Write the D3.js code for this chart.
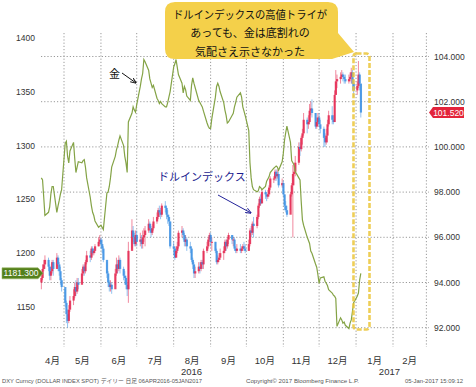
<!DOCTYPE html>
<html lang="ja">
<head>
  <meta charset="UTF-8">
  <title>ドルインデックスと金</title>
  <script src="https://d3js.org/d3.v7.min.js"></script>
  <style>
    body { margin: 0; background: #fff; }
    svg { display: block; }
    .grid line { stroke: #9a9a9a; stroke-width: 1; stroke-dasharray: 1.2,2; }
    .lbl { font-family: "Liberation Sans", "Noto Sans CJK JP", sans-serif; fill: #333; }
    .jp { font-family: "Noto Sans CJK JP", sans-serif; }
  </style>
</head>
<body>
<svg id="chart" width="476" height="387"></svg>
<script>
// ---- data (daily, weekdays 12 Apr 2016 - 5 Jan 2017) ----
// dollar index close / high / low
const dxyClose = [
  94.2, 94.6, 94.8, 95.0, 94.7, 94.3, 94.5, 94.9, 94.6, 95.1, 94.8, 94.5, 94.1, 93.8,
  93.1, 92.6, 92.3, 92.8, 93.2, 93.4, 93.8, 93.6, 94.0, 93.9, 94.4, 94.7, 94.5, 94.9, 95.2, 95.1, 95.5, 95.3, 95.4, 95.6, 95.8, 95.9,
  95.7, 95.5, 95.0, 94.4, 94.0, 93.8, 93.9, 93.7, 94.4, 94.8, 94.6, 95.0, 94.6, 94.3, 94.2, 93.9, 93.7, 95.4, 96.3, 96.0, 95.7, 96.1,
  95.8, 95.9, 95.7, 96.0, 96.1, 96.3, 96.6, 96.4, 96.2, 96.4, 96.7, 96.9, 97.2, 97.1, 97.0, 97.4, 97.3, 97.0, 96.9, 96.7, 95.6,
  95.5, 95.1, 95.4, 95.6, 96.2, 96.3, 96.1, 95.8, 95.9, 95.6, 95.5, 95.0, 94.8, 94.4, 94.5, 94.7, 94.6, 94.9, 94.8, 95.4, 95.6, 95.9, 96.1,
  95.8, 95.8, 95.4, 94.9, 95.0, 95.1, 95.3, 95.4, 95.8, 95.6, 95.9, 96.1, 95.9, 95.9, 95.5, 95.4, 95.5, 95.4, 95.5, 95.6, 95.5, 95.4,
  95.7, 96.3, 96.2, 96.6, 96.5, 96.9, 97.4, 97.7, 97.5, 98.0, 97.9, 97.8, 97.9, 98.2, 98.6, 98.6, 98.9, 98.7, 98.8, 98.3, 98.4,
  97.9, 97.4, 97.2, 97.0, 97.9, 98.3, 98.8, 98.9, 99.3, 100.0, 99.9, 100.4, 100.6, 101.2, 101.0, 101.1, 101.6, 101.7, 101.5, 100.9, 101.1, 101.3,
  101.0, 100.8, 100.4, 100.2, 100.5, 101.0, 101.4, 101.2, 101.1, 102.3, 102.9, 103.0, 103.1, 103.2, 103.1, 103.0, 102.9, 103.0, 103.1, 103.3, 102.8, 102.5,
  102.7, 103.2, 102.8, 101.52
];
const dxyHigh = [
  94.4, 94.8, 95.0, 95.2, 95.1, 94.8, 94.7, 95.0, 95.0, 95.3, 95.2, 94.9, 94.7, 94.2,
  93.7, 93.2, 92.8, 93.0, 93.4, 93.7, 94.0, 94.1, 94.2, 94.2, 94.6, 94.8, 94.8, 95.0, 95.4, 95.4, 95.6, 95.6, 95.5, 95.7, 96.0, 96.1,
  96.0, 95.9, 95.6, 94.9, 94.5, 94.1, 94.1, 94.0, 94.6, 95.1, 95.0, 95.2, 95.1, 94.7, 94.5, 94.3, 94.0, 95.8, 96.8, 96.5, 96.2, 96.3,
  96.3, 96.2, 96.1, 96.3, 96.4, 96.5, 96.8, 96.7, 96.5, 96.6, 96.9, 97.1, 97.3, 97.4, 97.3, 97.5, 97.6, 97.4, 97.2, 97.0, 96.7,
  95.8, 95.6, 95.6, 95.8, 96.3, 96.5, 96.4, 96.2, 96.1, 96.0, 95.8, 95.6, 95.1, 94.9, 94.7, 94.9, 94.9, 95.0, 95.0, 95.5, 95.8, 96.0, 96.2,
  96.2, 96.0, 95.8, 95.5, 95.2, 95.3, 95.5, 95.6, 95.9, 95.9, 96.0, 96.2, 96.1, 96.0, 96.0, 95.6, 95.7, 95.7, 95.6, 95.7, 95.8, 95.7,
  95.9, 96.4, 96.5, 96.7, 96.9, 97.0, 97.5, 97.8, 97.9, 98.1, 98.1, 98.0, 98.1, 98.3, 98.7, 98.7, 99.0, 99.0, 99.0, 98.9, 98.6,
  98.5, 97.9, 97.6, 97.4, 98.0, 98.4, 99.2, 99.3, 99.6, 100.2, 100.2, 100.5, 100.8, 101.5, 101.3, 101.4, 101.9, 102.0, 102.1, 101.5, 101.3, 101.5,
  101.5, 101.2, 100.9, 100.6, 100.8, 101.2, 101.6, 101.8, 101.4, 102.5, 103.4, 103.2, 103.3, 103.4, 103.3, 103.2, 103.2, 103.2, 103.3, 103.5, 103.4, 103.0,
  102.9, 103.8, 103.3, 102.8
];
const dxyLow = [
  93.7, 94.1, 94.5, 94.6, 94.5, 94.1, 94.1, 94.4, 94.3, 94.7, 94.5, 94.3, 93.9, 93.6,
  92.9, 92.2, 92.0, 92.2, 92.7, 93.0, 93.3, 93.4, 93.5, 93.7, 94.0, 94.3, 94.3, 94.4, 94.8, 94.9, 95.0, 95.2, 95.2, 95.3, 95.6, 95.7,
  95.5, 95.3, 94.9, 94.2, 93.8, 93.6, 93.6, 93.5, 93.9, 94.3, 94.4, 94.5, 94.4, 94.1, 93.9, 93.7, 93.4, 93.1, 95.5, 95.8, 95.6, 95.6,
  95.6, 95.6, 95.5, 95.5, 95.8, 95.6, 96.2, 96.2, 96.0, 96.1, 96.3, 96.6, 96.8, 96.9, 96.8, 96.9, 97.1, 96.8, 96.6, 96.5, 95.5,
  95.2, 95.0, 95.1, 95.3, 95.5, 96.0, 95.9, 95.6, 95.6, 95.4, 95.3, 94.9, 94.6, 94.2, 94.2, 94.4, 94.4, 94.5, 94.6, 94.6, 95.3, 95.5, 95.8,
  95.6, 95.4, 95.3, 94.8, 94.8, 94.9, 95.0, 95.0, 95.3, 95.4, 95.5, 95.7, 95.7, 95.6, 95.4, 95.3, 95.3, 95.3, 95.3, 95.4, 95.4, 95.3,
  95.4, 95.6, 96.0, 96.1, 96.0, 96.4, 96.8, 97.3, 97.4, 97.5, 97.7, 97.6, 97.7, 97.8, 98.1, 98.4, 98.5, 98.5, 98.6, 98.2, 98.2,
  97.8, 97.2, 97.1, 96.9, 97.2, 97.8, 96.0, 98.3, 98.7, 99.2, 99.6, 99.8, 100.1, 100.5, 100.6, 100.8, 101.0, 101.4, 101.3, 100.8, 100.8, 100.9,
  100.9, 100.6, 100.0, 100.0, 100.1, 100.2, 100.9, 101.0, 101.0, 101.1, 102.3, 102.6, 102.8, 103.0, 102.9, 102.8, 102.8, 102.8, 102.9, 102.8, 102.5, 102.2,
  102.3, 102.6, 102.5, 101.3
];
// gold spot close
const goldClose = [
  1270, 1268, 1252, 1235, 1238, 1243, 1255, 1262, 1262, 1238, 1244, 1249, 1255, 1259,
  1302, 1304, 1290, 1284, 1295, 1303, 1288, 1275, 1280, 1285, 1284, 1286, 1287, 1280, 1270, 1252, 1244, 1238, 1235, 1230, 1224, 1225,
  1226, 1224, 1222, 1256, 1257, 1262, 1270, 1280, 1290, 1296, 1300, 1305, 1309, 1300, 1290, 1284, 1275, 1322, 1330, 1336, 1333, 1331,
  1338, 1355, 1362, 1367, 1380, 1378, 1370, 1362, 1358, 1354, 1356, 1344, 1342, 1339, 1341, 1339, 1336, 1336, 1340, 1345, 1350,
  1373, 1376, 1380, 1373, 1366, 1358, 1349, 1355, 1352, 1346, 1342, 1356, 1363, 1358, 1354, 1342, 1340, 1338, 1336, 1332, 1321, 1318, 1316,
  1316, 1325, 1345, 1355, 1358, 1355, 1350, 1340, 1333, 1328, 1321, 1322, 1328, 1330, 1336, 1340, 1345, 1349, 1345, 1336, 1332, 1328,
  1314, 1284, 1270, 1262, 1259, 1257, 1258, 1262, 1261, 1259, 1262, 1267, 1269, 1271, 1275, 1279, 1280, 1281, 1280, 1277, 1285,
  1293, 1305, 1312, 1318, 1303, 1286, 1284, 1282, 1276, 1270, 1268, 1248, 1231, 1226, 1215, 1212, 1209, 1202, 1200, 1190, 1187, 1180,
  1172, 1177, 1178, 1174, 1172, 1170, 1166, 1163, 1161, 1160, 1158, 1132, 1140, 1138, 1135, 1136, 1133, 1130, 1135, 1138, 1146, 1154,
  1160, 1163, 1175, 1181.3
];

const leftTicks = [1150, 1200, 1250, 1300, 1350, 1400];
const rightTicks = [92, 94, 96, 98, 100, 102, 104];
const bubbleLines = ["ドルインデックスの高値トライが", "あっても、金は底割れの", "気配さえ示さなかった"];
const footerLeft = "DXY Curncy (DOLLAR INDEX SPOT)  デイリー  日足 06APR2016-05JAN2017";
const footerMid = "Copyright\u00a9 2017 Bloomberg Finance L.P.";
const footerRight = "05-Jan-2017 15:09:12";

// trading days
const days = d3.timeDay.range(new Date(2016, 3, 12), new Date(2017, 0, 6))
  .filter(d => d.getDay() !== 0 && d.getDay() !== 6);
const n = Math.min(days.length, dxyClose.length, goldClose.length);

const svg = d3.select("#chart");
const plotL = 41, plotR = 429, plotT = 33, plotB = 347;

const x = d3.scaleTime()
  .domain([new Date(2016, 4, 1), new Date(2017, 1, 1)])
  .range([64, 393]);
const yR = d3.scaleLinear().domain([92, 104]).range([327.7, 56.5]);
const yL = d3.scaleLinear().domain([1150, 1400]).range([307, 38]);

// grid
const grid = svg.append("g").attr("class", "grid");
grid.selectAll(".h").data(rightTicks).enter().append("line")
  .attr("x1", plotL).attr("x2", plotR)
  .attr("y1", d => yR(d)).attr("y2", d => yR(d));
const monthStarts = d3.timeMonth.range(new Date(2016, 4, 1), new Date(2017, 2, 2));
grid.selectAll(".v").data(monthStarts).enter().append("line")
  .attr("x1", d => x(d)).attr("x2", d => x(d))
  .attr("y1", plotT).attr("y2", plotB);

// axis labels
svg.append("g").selectAll("text").data(leftTicks).enter().append("text")
  .attr("class", "lbl").attr("x", 35).attr("y", d => yL(d) + 3)
  .attr("text-anchor", "end").attr("font-size", 8.5).text(d => d);
svg.append("g").selectAll("text").data(rightTicks).enter().append("text")
  .attr("class", "lbl").attr("x", 434).attr("y", d => yR(d) + 3)
  .attr("font-size", 8.5).text(d => d3.format(".3f")(d));

const months = d3.timeMonth.range(new Date(2016, 3, 1), new Date(2017, 2, 1));
svg.append("g").selectAll("text").data(months).enter().append("text")
  .attr("class", "lbl")
  .attr("x", d => {
    const a = Math.max(x(d), plotL), b = Math.min(x(d3.timeMonth.offset(d, 1)), plotR);
    return (a + b) / 2;
  })
  .attr("y", 364).attr("text-anchor", "middle").attr("font-size", 9.5)
  .text(d => (d.getMonth() + 1) + "月");
[["2016", new Date(2016, 7, 16)], ["2017", new Date(2017, 0, 29)]].forEach(([t, d]) => {
  svg.append("text").attr("class", "lbl").attr("x", x(d)).attr("y", 374.5)
    .attr("text-anchor", "middle").attr("font-size", 9.5).text(t);
});

// candles
const red = "#e4264f", blue = "#3b8fe3";
const candles = d3.range(n).map(i => ({
  date: days[i],
  open: i > 0 ? dxyClose[i - 1] : 94.0,
  close: dxyClose[i], high: dxyHigh[i], low: dxyLow[i]
}));
const cg = svg.append("g");
cg.selectAll("line").data(candles).enter().append("line")
  .attr("x1", d => x(d.date)).attr("x2", d => x(d.date))
  .attr("y1", d => yR(d.high)).attr("y2", d => yR(d.low))
  .attr("stroke", d => d.close >= d.open ? red : blue)
  .attr("stroke-opacity", 0.55).attr("stroke-width", 1);
cg.selectAll("rect").data(candles).enter().append("rect")
  .attr("x", d => x(d.date) - 1)
  .attr("width", 2.2)
  .attr("y", d => yR(Math.max(d.open, d.close)))
  .attr("height", d => Math.max(1, Math.abs(yR(d.open) - yR(d.close))))
  .attr("fill", d => d.close >= d.open ? red : blue)
  .attr("fill-opacity", 0.85);

// gold line
svg.append("path")
  .datum(d3.range(n))
  .attr("fill", "none").attr("stroke", "#84a346").attr("stroke-width", 1.2)
  .attr("d", d3.line().x(i => x(days[i])).y(i => yL(goldClose[i])));

// last value tags
const lastD = dxyClose[n - 1], lastG = goldClose[n - 1];
const ty = yR(lastD);
svg.append("path")
  .attr("d", `M429,${ty} L433,${ty - 5.5} H464 V${ty + 5.5} H433 Z`)
  .attr("fill", "#e3243b");
svg.append("text").attr("class", "lbl").attr("x", 448.5).attr("y", ty + 3)
  .attr("text-anchor", "middle").attr("font-size", 8.5).style("fill", "#fff")
  .text(d3.format(".3f")(lastD));
const gy = yL(lastG);
svg.append("path")
  .attr("d", `M2,${gy - 5.5} H38 L43,${gy} L38,${gy + 5.5} H2 Z`)
  .attr("fill", "#54801b").attr("stroke", "#9ab86a").attr("stroke-width", 0.6);
svg.append("text").attr("class", "lbl").attr("x", 21).attr("y", gy + 3)
  .attr("text-anchor", "middle").attr("font-size", 8.5).style("fill", "#fff")
  .text(d3.format(".3f")(lastG));

// highlight box
svg.append("rect")
  .attr("x", 353.5).attr("y", 53.5).attr("width", 16).attr("height", 276).attr("rx", 3)
  .attr("fill", "none").attr("stroke", "#ebc53a").attr("stroke-width", 2.6)
  .attr("stroke-dasharray", "5,2").attr("stroke-opacity", 0.85);

// callout bubble
svg.append("path")
  .attr("d", "M175,2 H328 Q338,2 338,12 V33 L354,52 L332,59 H175 Q165,59 165,49 V12 Q165,2 175,2 Z")
  .attr("fill", "#f4d04a");
svg.append("g").selectAll("text").data(bubbleLines).enter().append("text")
  .attr("class", "jp").attr("x", 250).attr("y", (d, i) => 18.5 + i * 18.5)
  .attr("text-anchor", "middle").attr("font-size", 11).attr("fill", "#111")
  .each(function (d, i) {
    if (i === 0) d3.select(this).attr("textLength", 154).attr("lengthAdjust", "spacingAndGlyphs");
  })
  .text(d => d);

// arrows + labels
const defs = svg.append("defs");
[["ahK", "#111"], ["ahB", "#23239a"]].forEach(([id, c]) => {
  defs.append("marker").attr("id", id).attr("viewBox", "0 0 10 10")
    .attr("refX", 9).attr("refY", 5).attr("markerWidth", 6).attr("markerHeight", 6)
    .attr("orient", "auto")
    .append("path").attr("d", "M0,1 L10,5 L0,9").attr("fill", "none")
    .attr("stroke", c).attr("stroke-width", 1.6);
});
svg.append("text").attr("class", "jp").attr("x", 109).attr("y", 78)
  .attr("font-size", 11).attr("fill", "#111").text("金");
svg.append("line").attr("x1", 122).attr("y1", 73).attr("x2", 136).attr("y2", 83)
  .attr("stroke", "#111").attr("stroke-width", 1).attr("marker-end", "url(#ahK)");
svg.append("text").attr("class", "jp").attr("x", 158).attr("y", 181)
  .attr("font-size", 11).attr("fill", "#1c1c8f").text("ドルインデックス");
svg.append("line").attr("x1", 218).attr("y1", 195).attr("x2", 251).attr("y2", 213)
  .attr("stroke", "#23239a").attr("stroke-width", 1).attr("marker-end", "url(#ahB)");

// footer
[[footerLeft, 2, 200], [footerMid, 246, 113], [footerRight, 405, 58]].forEach(([t, x0, w]) => {
  svg.append("text").attr("class", "lbl").attr("x", x0).attr("y", 383)
    .attr("font-size", 5.5).style("fill", "#555")
    .attr("textLength", w).attr("lengthAdjust", "spacingAndGlyphs").text(t);
});
</script>
</body>
</html>
